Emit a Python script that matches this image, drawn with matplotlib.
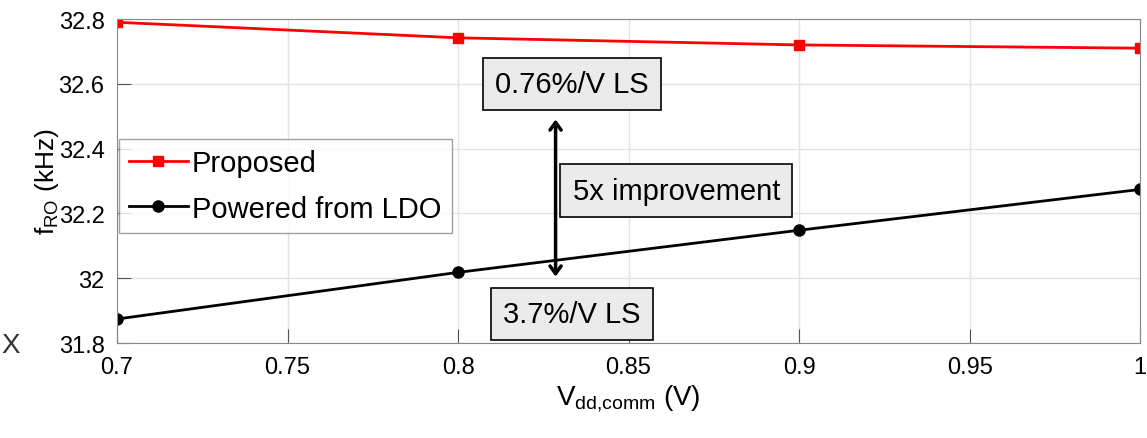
import matplotlib
matplotlib.use("Agg")
import matplotlib.pyplot as plt
from matplotlib import font_manager

# supply voltage sweep and ring-oscillator frequency (kHz)
vdd = [0.7, 0.8, 0.9, 1.0]
f_proposed = [32.79, 32.742, 32.72, 32.71]
f_ldo = [31.874, 32.018, 32.148, 32.274]

xticks = [0.7, 0.75, 0.8, 0.85, 0.9, 0.95, 1.0]
xtick_labels = ["0.7", "0.75", "0.8", "0.85", "0.9", "0.95", "1"]
yticks = [31.8, 32.0, 32.2, 32.4, 32.6, 32.8]
ytick_labels = ["31.8", "32", "32.2", "32.4", "32.6", "32.8"]

names = {f.name for f in font_manager.fontManager.ttflist}
family = [n for n in ["Liberation Sans Narrow", "DejaVu Sans Condensed", "Liberation Sans"] if n in names]
plt.rcParams["font.family"] = family + ["DejaVu Sans"]

fig = plt.figure(figsize=(11.47, 4.39), dpi=100)
ax = fig.add_axes([0.102, 0.2164, 0.892, 0.738])

ax.plot(vdd, f_proposed, color="#ff0000", lw=2, marker="s", ms=7, label="Proposed")
ax.plot(vdd, f_ldo, color="black", lw=2, marker="o", ms=8, label="Powered from LDO")

ax.set_xlim(0.7, 1.0)
ax.set_ylim(31.8, 32.8)
ax.set_xticks(xticks)
ax.set_xticklabels(xtick_labels)
ax.set_yticks(yticks)
ax.set_yticklabels(ytick_labels)
ax.tick_params(direction="in", labelsize=17, length=10, color="#555555", pad=9)
ax.grid(True, color="#e2e2e2", lw=1)
for s in ax.spines.values():
    s.set_color("#888888")

ax.set_xlabel(r"V$_{\mathregular{dd{,}comm}}$ (V)", fontsize=20, labelpad=4)
ax.set_ylabel(r"f$_{\mathregular{RO}}$ (kHz)", fontsize=19, labelpad=-2)

leg = ax.legend(loc="upper left", bbox_to_anchor=(0.002, 0.63), fontsize=21,
                frameon=True, fancybox=False, edgecolor="#888888",
                handlelength=2.0, handletextpad=0.15, borderpad=0.35,
                labelspacing=0.6, borderaxespad=0)
leg.get_frame().set_linewidth(1)

box = dict(boxstyle="square,pad=0.42", fc="#ebebeb", ec="black", lw=1.2)
ax.text(0.8334, 32.6, "0.76%/V LS", fontsize=21, ha="center", va="center", bbox=box)
ax.text(0.8334, 31.89, "3.7%/V LS", fontsize=21, ha="center", va="center", bbox=box)
ax.text(0.864, 32.27, "5x improvement", fontsize=21, ha="center", va="center", bbox=box)

ax.annotate("", xy=(0.8286, 32.49), xytext=(0.8286, 32.005),
            arrowprops=dict(arrowstyle="<->,head_length=0.55,head_width=0.4",
                            lw=2.5, color="black", shrinkA=0, shrinkB=0))

fig.text(0.001, 0.195, "X", fontsize=20, color="#333333")

fig.savefig("out.png", dpi=100)
